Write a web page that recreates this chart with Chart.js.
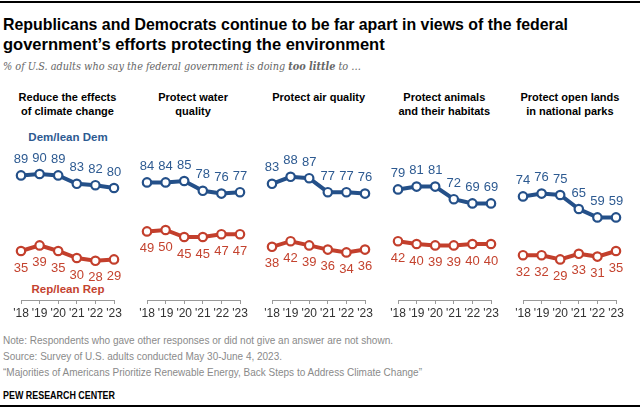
<!DOCTYPE html>
<html>
<head>
<meta charset="utf-8">
<script src="https://cdn.jsdelivr.net/npm/chart.js@4.4.1/dist/chart.umd.min.js"></script>
<style>
  html, body { margin:0; padding:0; background:#fff; }
  body { width:640px; height:408px; position:relative; overflow:hidden; font-family:"Liberation Sans", Arial, sans-serif; }
  .abs { position:absolute; white-space:nowrap; }
  .fit { transform-origin:0 50%; }
  .title { left:3px; font-weight:bold; font-size:16.5px; color:#000; line-height:20px; }
  .sub { left:3px; top:59px; font-family:"DejaVu Serif", Georgia, serif; font-style:italic; font-size:10.5px; color:#666; line-height:14px; }
  .ptitle { font-weight:bold; font-size:11px; color:#000; text-align:center; line-height:14px; width:130px; }
  .series { font-weight:bold; font-size:11.5px; text-align:center; width:130px; line-height:14px; }
  .foot { left:3px; font-size:10.5px; color:#8a8a8a; line-height:14px; }
  canvas { position:absolute; }
</style>
</head>
<body>
<div class="abs" style="left:0;top:1px;width:640px;height:1.5px;background:#000;"></div>
<div class="abs title fit" data-w="565" style="top:14px;">Republicans and Democrats continue to be far apart in views of the federal</div>
<div class="abs title fit" style="top:34px;">government’s efforts protecting the environment</div>
<div class="abs sub fit" data-w="358">% of U.S. adults who say the federal government is doing <b>too little</b> to …</div>
<div id="titles"></div>
<div class="abs series" style="left:3px;top:130px;color:#2d5a91;">Dem/lean Dem</div>
<div class="abs series" style="left:3px;top:282px;color:#c4432f;">Rep/lean Rep</div>
<div id="charts"></div>
<div class="abs foot fit" data-w="390" style="top:333px;">Note: Respondents who gave other responses or did not give an answer are not shown.</div>
<div class="abs foot fit" data-w="279" style="top:349px;">Source: Survey of U.S. adults conducted May 30-June 4, 2023.</div>
<div class="abs foot fit" data-w="419" style="top:365px;">“Majorities of Americans Prioritize Renewable Energy, Back Steps to Address Climate Change”</div>
<div class="abs fit" data-w="112" style="left:3px;top:388px;font-weight:bold;font-size:11px;color:#000;line-height:14px;">PEW RESEARCH CENTER</div>
<div class="abs" style="left:0;top:405px;width:640px;height:1.5px;background:#000;"></div>
<script>
const years = ["'18", "'19", "'20", "'21", "'22", "'23"];
const panelTitles = [
  ["Reduce the effects", "of climate change"],
  ["Protect water", "quality"],
  ["Protect air quality"],
  ["Protect animals", "and their habitats"],
  ["Protect open lands", "in national parks"]
];
const demClimate = [89, 90, 89, 83, 82, 80];
const repClimate = [35, 39, 35, 30, 28, 29];
const demWater   = [84, 84, 85, 78, 76, 77];
const repWater   = [49, 50, 45, 45, 47, 47];
const demAir     = [83, 88, 87, 77, 77, 76];
const repAir     = [38, 42, 39, 36, 34, 36];
const demAnimals = [79, 81, 81, 72, 69, 69];
const repAnimals = [42, 40, 39, 39, 40, 40];
const demLands   = [74, 76, 75, 65, 59, 59];
const repLands   = [32, 32, 29, 33, 31, 35];

const demSeries = [demClimate, demWater, demAir, demAnimals, demLands];
const repSeries = [repClimate, repWater, repAir, repAnimals, repLands];

const BLUE = '#245089', BLUE_TXT = '#2d5a91';
const RED = '#c33f2c', RED_TXT = '#c4432f';
const FONT = '"Liberation Sans", Arial, sans-serif';

// fit text blocks to the reference widths
document.querySelectorAll('.fit[data-w]').forEach(el => {
  const w = el.getBoundingClientRect().width;
  const target = parseFloat(el.dataset.w);
  if (w > 0) el.style.transform = 'scaleX(' + (target / w) + ')';
});

const labelPlugin = {
  id: 'valueLabels',
  afterDatasetsDraw(chart) {
    const ctx = chart.ctx;
    ctx.save();
    ctx.font = '13px ' + FONT;
    ctx.textAlign = 'center';
    ctx.textBaseline = 'middle';
    chart.data.datasets.forEach((ds, i) => {
      const meta = chart.getDatasetMeta(i);
      meta.data.forEach((pt, j) => {
        const above = ds.party === 'dem';
        ctx.fillStyle = above ? BLUE_TXT : RED_TXT;
        ctx.fillText(String(ds.data[j]), pt.x, above ? pt.y - 16 : pt.y + 17);
      });
    });
    ctx.restore();
  }
};

const PANEL_STEP = 125.6;
const FIRST_X = 21;
const PAD_L = 16, PAD_R = 16, CW = 125, CH = 190, CTOP = 140;

const titlesDiv = document.getElementById('titles');
const chartsDiv = document.getElementById('charts');

for (let i = 0; i < 5; i++) {
  const left = FIRST_X - PAD_L + i * PANEL_STEP;
  const center = left + PAD_L + (CW - PAD_L - PAD_R) / 2;
  const t = document.createElement('div');
  t.className = 'abs ptitle';
  t.style.left = (center - 65) + 'px';
  t.style.top = '90px';
  t.innerHTML = panelTitles[i].join('<br>');
  titlesDiv.appendChild(t);

  const c = document.createElement('canvas');
  c.width = CW; c.height = CH;
  c.style.left = left + 'px';
  c.style.top = CTOP + 'px';
  c.style.width = CW + 'px';
  c.style.height = CH + 'px';
  chartsDiv.appendChild(c);

  new Chart(c.getContext('2d'), {
    type: 'line',
    data: {
      labels: years,
      datasets: [
        { party: 'dem', data: demSeries[i], borderColor: BLUE, borderWidth: 4, tension: 0,
          pointRadius: 4.2, pointBorderWidth: 2.2, pointBackgroundColor: '#fff', pointBorderColor: BLUE, clip: false },
        { party: 'rep', data: repSeries[i], borderColor: RED, borderWidth: 4, tension: 0,
          pointRadius: 4.2, pointBorderWidth: 2.2, pointBackgroundColor: '#fff', pointBorderColor: RED, clip: false }
      ]
    },
    options: {
      responsive: false,
      animation: false,
      layout: { padding: { left: PAD_L, right: PAD_R, top: 20, bottom: 0 } },
      plugins: { legend: { display: false }, tooltip: { enabled: false } },
      scales: {
        x: {
          offset: false,
          grid: { display: true, drawOnChartArea: false, drawTicks: true, tickLength: 4, tickColor: '#9a9a9a', color: '#9a9a9a' },
          border: { display: true, color: '#9a9a9a', width: 1 },
          ticks: { color: '#333', font: { family: FONT, size: 12 }, padding: 2, maxRotation: 0, autoSkip: false },
          afterFit(s) { s.height = 30; }
        },
        y: { display: false, min: 0, max: 100 }
      }
    },
    plugins: [labelPlugin]
  });
}
</script>
</body>
</html>
